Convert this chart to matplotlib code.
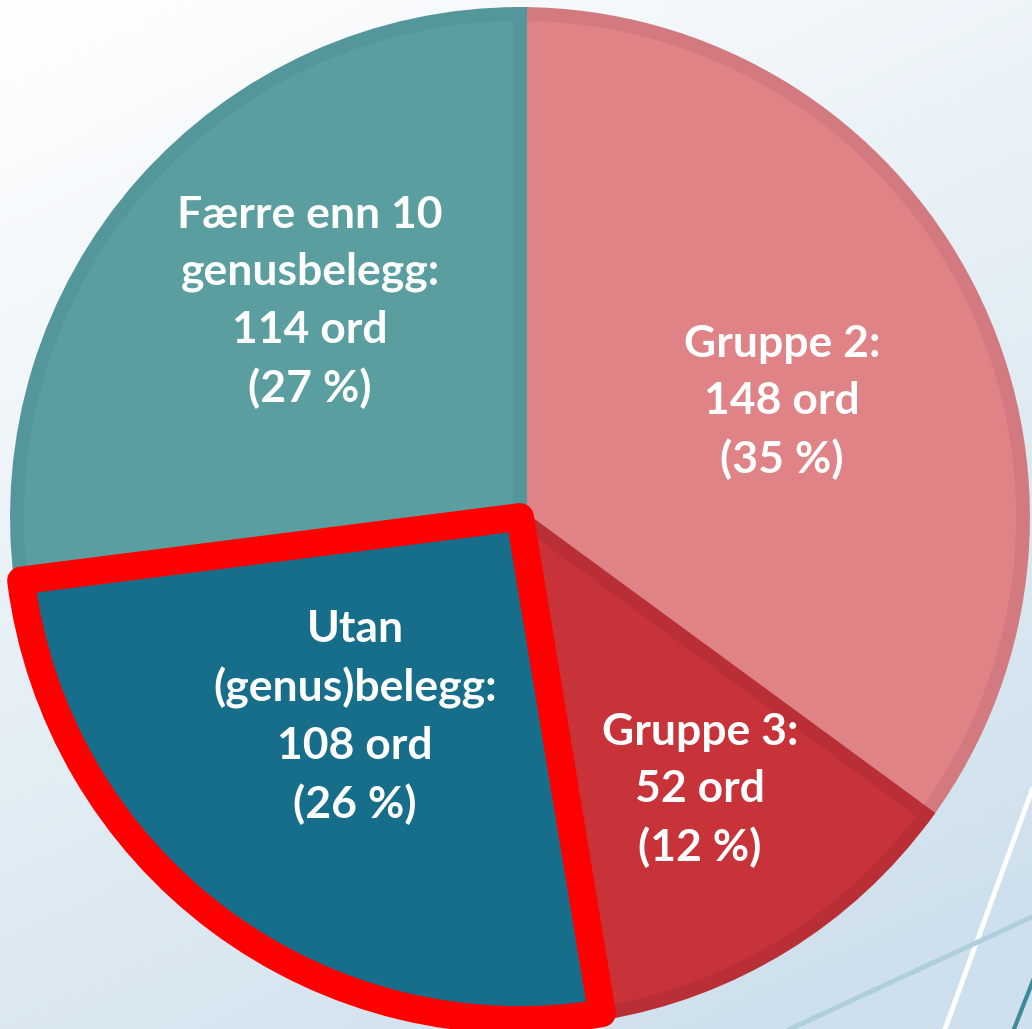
import numpy as np
import matplotlib
matplotlib.use("Agg")
import matplotlib.pyplot as plt
import matplotlib.patheffects as pe

# data: going clockwise from 12 o'clock
names = ["Gruppe 2", "Gruppe 3", "Utan\n(genus)belegg", "Færre enn 10\ngenusbelegg"]
counts = [148, 52, 108, 114]
colors = ["#E08387", "#C8333A", "#176E8A", "#5A9EA0"]
edge_colors = ["#D27A7F", "#BA2F36", "#136580", "#53979A"]

W, H = 1032, 1029
fig = plt.figure(figsize=(W / 100, H / 100), dpi=100)
ax = fig.add_axes([0, 0, 1, 1])

# slide background: white top-left -> pale blue bottom-right
yy, xx = np.mgrid[0:1:200j, 0:1:200j]
t = np.clip(0.35 * xx + 0.75 * yy, 0, 1)
c0 = np.array([1.0, 1.0, 1.0])
c1 = np.array([0.81, 0.88, 0.93])
grad = c0 + (c1 - c0) * t[..., None]
ax.imshow(grad, extent=(0, W, 0, H), origin="upper", zorder=0, aspect="auto")

# decorative lines in the lower right corner
ax.plot([1032, 945], [H - 790, H - 1029], color="white", lw=3.5, zorder=1)
ax.plot([1032, 790], [H - 917, H - 1029], color="#AFCFDC", lw=3.5, zorder=1)
ax.plot([1034, 1014], [H - 978, H - 1029], color="#3E8A9A", lw=3, zorder=1)

cx, cy, r = 520, H - 517, 503
wedges, _ = ax.pie(counts, colors=colors, startangle=90, counterclock=False,
                   center=(cx, cy), radius=r, frame=True,
                   wedgeprops=dict(linewidth=0))
ax.set_xlim(0, W)
ax.set_ylim(0, H)
ax.axis("off")

for i, w in enumerate(wedges):
    w.set_zorder(2)
    if i == 2:
        continue
    w.set_edgecolor(edge_colors[i])
    w.set_linewidth(10)
    w.set_clip_path(w)

# highlighted wedge with thick red outline
hl = wedges[2]
hl.set_zorder(3)
hl.set_edgecolor("#FF0000")
hl.set_linewidth(20)
hl.set_joinstyle("round")
hl.set_path_effects([pe.SimplePatchShadow(offset=(2, -2), alpha=0.25), pe.Normal()])

total = sum(counts)
label_pos = [(782, 402), (700, 790), (355, 717), (310, 302)]
for name, n, (x, y) in zip(names, counts, label_pos):
    pct = round(100 * n / total)
    txt = f"{name}:\n{n} ord\n({pct} %)"
    ax.text(x, H - y, txt, ha="center", va="center", color="white",
            fontsize=32, fontweight="bold", family="Lato",
            linespacing=1.52, zorder=5)

fig.savefig("out.png", dpi=100)
